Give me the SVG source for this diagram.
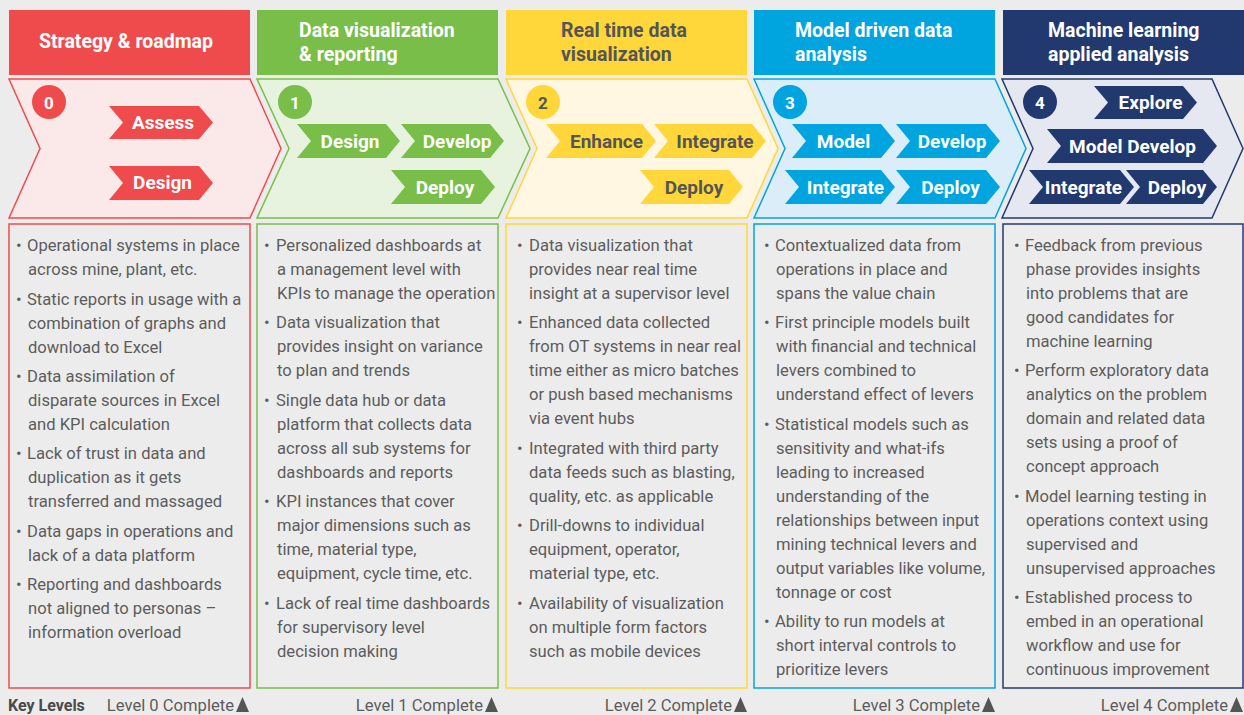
<svg xmlns="http://www.w3.org/2000/svg" width="1244" height="715" viewBox="0 0 1244 715">
<style>
.bg{fill:#ececec}
.hdr{font-family:Roboto,"Liberation Sans",sans-serif;font-weight:700;font-size:19.5px;fill:#ffffff}
.hdr.dk{fill:#555555}
.num{font-family:Roboto,"Liberation Sans",sans-serif;font-weight:700;font-size:17px;fill:#ffffff;text-anchor:middle}
.num.dk{fill:#555555}
.step{font-family:Roboto,"Liberation Sans",sans-serif;font-weight:700;font-size:19px;fill:#ffffff;text-anchor:middle}
.step.dk{fill:#555555}
.body{font-family:Roboto,"Liberation Sans",sans-serif;font-size:16.6px;fill:#5c5c5c}
.foot{font-family:Roboto,"Liberation Sans",sans-serif;font-size:16.6px;fill:#5c5c5c;text-anchor:end}
.key{font-family:Roboto,"Liberation Sans",sans-serif;font-size:16px;font-weight:700;fill:#4a4a4a}
.tri{fill:#555555}
.box{fill:none;stroke-width:1.5}
.chev{stroke-width:1.5}
.c0 .solid{fill:#f04b4c}.c0 .line{stroke:#f04b4c}.c0 .light{fill:#fbe8e9}
.c1 .solid{fill:#78be48}.c1 .line{stroke:#78be48}.c1 .light{fill:#e7f2df}
.c2 .solid{fill:#ffd73a}.c2 .line{stroke:#ffd73a}.c2 .light{fill:#fff7e1}
.c3 .solid{fill:#00a5e0}.c3 .line{stroke:#00a5e0}.c3 .light{fill:#dbedf8}
.c4 .solid{fill:#22396f}.c4 .line{stroke:#22396f}.c4 .light{fill:#e5e8f0}
</style>
<rect class="bg" x="0" y="0" width="1244" height="715"/>

<!-- Phase 0 -->
<g id="phase0" class="c0">
  <g id="phase0-header">
    <rect class="solid" x="9" y="10" width="241" height="65"/>
    <text class="hdr" x="126" y="48" text-anchor="middle">Strategy &amp; roadmap</text>
  </g>
  <g id="phase0-chevron">
    <polygon class="chev light line" points="9,79 250,79 281,148.5 250,218 9,218 40,148.5"/>
    <circle class="solid" cx="49" cy="102" r="17"/>
    <text class="num" x="49" y="108.5">0</text>
  </g>
  <g id="phase0-assess">
    <polygon class="solid" points="109,106 199,106 213,122.5 199,139 109,139 123,122.5"/>
    <text class="step" x="163" y="129">Assess</text>
  </g>
  <g id="phase0-design">
    <polygon class="solid" points="109,166 199,166 213,183 199,200 109,200 123,183"/>
    <text class="step" x="162.5" y="189">Design</text>
  </g>
  <g id="phase0-details">
    <rect class="box line" x="9" y="224" width="241" height="464"/>
    <text class="body">
      <tspan x="16" y="250.5">•</tspan><tspan x="27" y="250.5">Operational systems in place</tspan>
      <tspan x="28" y="274.5">across mine, plant, etc.</tspan>
      <tspan x="16" y="304.5">•</tspan><tspan x="27" y="304.5">Static reports in usage with a</tspan>
      <tspan x="28" y="328.5">combination of graphs and</tspan>
      <tspan x="28" y="352.5">download to Excel</tspan>
      <tspan x="16" y="381.5">•</tspan><tspan x="27" y="381.5">Data assimilation of</tspan>
      <tspan x="28" y="405.5">disparate sources in Excel</tspan>
      <tspan x="28" y="429.5">and KPI calculation</tspan>
      <tspan x="16" y="459">•</tspan><tspan x="27" y="459">Lack of trust in data and</tspan>
      <tspan x="28" y="483">duplication as it gets</tspan>
      <tspan x="28" y="507">transferred and massaged</tspan>
      <tspan x="16" y="536.5">•</tspan><tspan x="27" y="536.5">Data gaps in operations and</tspan>
      <tspan x="28" y="560.5">lack of a data platform</tspan>
      <tspan x="16" y="590">•</tspan><tspan x="27" y="590">Reporting and dashboards</tspan>
      <tspan x="28" y="614">not aligned to personas –</tspan>
      <tspan x="28" y="638">information overload</tspan>
    </text>
  </g>
</g>

<!-- Phase 1 -->
<g id="phase1" class="c1">
  <g id="phase1-header">
    <rect class="solid" x="257" y="10" width="241" height="65"/>
    <text class="hdr" x="299" y="37">Data visualization</text>
    <text class="hdr" x="299" y="61">&amp; reporting</text>
  </g>
  <g id="phase1-chevron">
    <polygon class="chev light line" points="257,79 498,79 530,148.5 498,218 257,218 289,148.5"/>
    <circle class="solid" cx="295" cy="102" r="17"/>
    <text class="num" x="295" y="108.5">1</text>
  </g>
  <g id="phase1-design">
    <polygon class="solid" points="297,124 386,124 400,141 386,158 297,158 311,141"/>
    <text class="step" x="350" y="147.5">Design</text>
  </g>
  <g id="phase1-develop">
    <polygon class="solid" points="401,124 490,124 504,141 490,158 401,158 415,141"/>
    <text class="step" x="457" y="147.5">Develop</text>
  </g>
  <g id="phase1-deploy">
    <polygon class="solid" points="391,170 481,170 495,187 481,204 391,204 405,187"/>
    <text class="step" x="445" y="193.5">Deploy</text>
  </g>
  <g id="phase1-details">
    <rect class="box line" x="257" y="224" width="241" height="464"/>
    <text class="body">
      <tspan x="264" y="250.5">•</tspan><tspan x="276" y="250.5">Personalized dashboards at</tspan>
      <tspan x="277" y="274.5">a management level with</tspan>
      <tspan x="277" y="298.5">KPIs to manage the operation</tspan>
      <tspan x="264" y="328">•</tspan><tspan x="276" y="328">Data visualization that</tspan>
      <tspan x="277" y="352">provides insight on variance</tspan>
      <tspan x="277" y="376">to plan and trends</tspan>
      <tspan x="264" y="405.5">•</tspan><tspan x="276" y="405.5">Single data hub or data</tspan>
      <tspan x="277" y="429.5">platform that collects data</tspan>
      <tspan x="277" y="453.5">across all sub systems for</tspan>
      <tspan x="277" y="477.5">dashboards and reports</tspan>
      <tspan x="264" y="507">•</tspan><tspan x="276" y="507">KPI instances that cover</tspan>
      <tspan x="277" y="531">major dimensions such as</tspan>
      <tspan x="277" y="555">time, material type,</tspan>
      <tspan x="277" y="579">equipment, cycle time, etc.</tspan>
      <tspan x="264" y="608.5">•</tspan><tspan x="276" y="608.5">Lack of real time dashboards</tspan>
      <tspan x="277" y="632.5">for supervisory level</tspan>
      <tspan x="277" y="656.5">decision making</tspan>
    </text>
  </g>
</g>

<!-- Phase 2 -->
<g id="phase2" class="c2">
  <g id="phase2-header">
    <rect class="solid" x="506" y="10" width="241" height="65"/>
    <text class="hdr dk" x="561" y="37">Real time data</text>
    <text class="hdr dk" x="561" y="61">visualization</text>
  </g>
  <g id="phase2-chevron">
    <polygon class="chev light line" points="506,79 747,79 778,148.5 747,218 506,218 537,148.5"/>
    <circle class="solid" cx="543" cy="102" r="17"/>
    <text class="num dk" x="543" y="108.5">2</text>
  </g>
  <g id="phase2-enhance">
    <polygon class="solid" points="546,124 642,124 656,141 642,158 546,158 560,141"/>
    <text class="step dk" x="606.5" y="147.5">Enhance</text>
  </g>
  <g id="phase2-integrate">
    <polygon class="solid" points="654,124 752,124 766,141 752,158 654,158 668,141"/>
    <text class="step dk" x="715" y="147.5">Integrate</text>
  </g>
  <g id="phase2-deploy">
    <polygon class="solid" points="640,170 729,170 743,187 729,204 640,204 654,187"/>
    <text class="step dk" x="694" y="193.5">Deploy</text>
  </g>
  <g id="phase2-details">
    <rect class="box line" x="506" y="224" width="241" height="464"/>
    <text class="body">
      <tspan x="517" y="250.5">•</tspan><tspan x="529" y="250.5">Data visualization that</tspan>
      <tspan x="529" y="274.5">provides near real time</tspan>
      <tspan x="529" y="298.5">insight at a supervisor level</tspan>
      <tspan x="517" y="328">•</tspan><tspan x="529" y="328">Enhanced data collected</tspan>
      <tspan x="529" y="352">from OT systems in near real</tspan>
      <tspan x="529" y="376">time either as micro batches</tspan>
      <tspan x="529" y="400">or push based mechanisms</tspan>
      <tspan x="529" y="424">via event hubs</tspan>
      <tspan x="517" y="453.5">•</tspan><tspan x="529" y="453.5">Integrated with third party</tspan>
      <tspan x="529" y="477.5">data feeds such as blasting,</tspan>
      <tspan x="529" y="501.5">quality, etc. as applicable</tspan>
      <tspan x="517" y="531">•</tspan><tspan x="529" y="531">Drill-downs to individual</tspan>
      <tspan x="529" y="555">equipment, operator,</tspan>
      <tspan x="529" y="579">material type, etc.</tspan>
      <tspan x="517" y="608.5">•</tspan><tspan x="529" y="608.5">Availability of visualization</tspan>
      <tspan x="529" y="632.5">on multiple form factors</tspan>
      <tspan x="529" y="656.5">such as mobile devices</tspan>
    </text>
  </g>
</g>

<!-- Phase 3 -->
<g id="phase3" class="c3">
  <g id="phase3-header">
    <rect class="solid" x="754" y="10" width="241" height="65"/>
    <text class="hdr" x="795" y="37">Model driven data</text>
    <text class="hdr" x="795" y="61">analysis</text>
  </g>
  <g id="phase3-chevron">
    <polygon class="chev light line" points="754,79 995,79 1026,148.5 995,218 754,218 785,148.5"/>
    <circle class="solid" cx="790" cy="102" r="17"/>
    <text class="num" x="790" y="108.5">3</text>
  </g>
  <g id="phase3-model">
    <polygon class="solid" points="792,124 881,124 895,141 881,158 792,158 806,141"/>
    <text class="step" x="843.5" y="147.5">Model</text>
  </g>
  <g id="phase3-develop">
    <polygon class="solid" points="896,124 986,124 1000,141 986,158 896,158 910,141"/>
    <text class="step" x="952" y="147.5">Develop</text>
  </g>
  <g id="phase3-integrate">
    <polygon class="solid" points="785,170 881,170 895,187 881,204 785,204 799,187"/>
    <text class="step" x="845.5" y="193.5">Integrate</text>
  </g>
  <g id="phase3-deploy">
    <polygon class="solid" points="896,170 986,170 1000,187 986,204 896,204 910,187"/>
    <text class="step" x="950.5" y="193.5">Deploy</text>
  </g>
  <g id="phase3-details">
    <rect class="box line" x="754" y="224" width="241" height="464"/>
    <text class="body">
      <tspan x="764" y="250.5">•</tspan><tspan x="775" y="250.5">Contextualized data from</tspan>
      <tspan x="776" y="274.5">operations in place and</tspan>
      <tspan x="776" y="298.5">spans the value chain</tspan>
      <tspan x="764" y="328">•</tspan><tspan x="775" y="328">First principle models built</tspan>
      <tspan x="776" y="352">with financial and technical</tspan>
      <tspan x="776" y="376">levers combined to</tspan>
      <tspan x="776" y="400">understand effect of levers</tspan>
      <tspan x="764" y="429.5">•</tspan><tspan x="775" y="429.5">Statistical models such as</tspan>
      <tspan x="776" y="453.5">sensitivity and what-ifs</tspan>
      <tspan x="776" y="477.5">leading to increased</tspan>
      <tspan x="776" y="501.5">understanding of the</tspan>
      <tspan x="776" y="525.5">relationships between input</tspan>
      <tspan x="776" y="549.5">mining technical levers and</tspan>
      <tspan x="776" y="573.5">output variables like volume,</tspan>
      <tspan x="776" y="597.5">tonnage or cost</tspan>
      <tspan x="764" y="627">•</tspan><tspan x="775" y="627">Ability to run models at</tspan>
      <tspan x="776" y="651">short interval controls to</tspan>
      <tspan x="776" y="675">prioritize levers</tspan>
    </text>
  </g>
</g>

<!-- Phase 4 -->
<g id="phase4" class="c4">
  <g id="phase4-header">
    <rect class="solid" x="1003" y="10" width="241" height="65"/>
    <text class="hdr" x="1048" y="37">Machine learning</text>
    <text class="hdr" x="1048" y="61">applied analysis</text>
  </g>
  <g id="phase4-chevron">
    <polygon class="chev light line" points="1002,79 1212,79 1243,148.5 1212,218 1002,218 1033,148.5"/>
    <circle class="solid" cx="1040" cy="102" r="17"/>
    <text class="num" x="1040" y="108.5">4</text>
  </g>
  <g id="phase4-explore">
    <polygon class="solid" points="1094,86 1183,86 1197,102.5 1183,119 1094,119 1108,102.5"/>
    <text class="step" x="1150.5" y="109">Explore</text>
  </g>
  <g id="phase4-modeldevelop">
    <polygon class="solid" points="1047,129 1203,129 1217,146 1203,163 1047,163 1061,146"/>
    <text class="step" x="1132.5" y="152.5">Model Develop</text>
  </g>
  <g id="phase4-integrate">
    <polygon class="solid" points="1029,170 1120,170 1134,187 1120,204 1029,204 1043,187"/>
    <text class="step" x="1083.5" y="193.5">Integrate</text>
  </g>
  <g id="phase4-deploy">
    <polygon class="solid" points="1126,170 1203,170 1217,187 1203,204 1126,204 1140,187"/>
    <text class="step" x="1177" y="193.5">Deploy</text>
  </g>
  <g id="phase4-details">
    <rect class="box line" x="1003" y="224" width="240" height="464"/>
    <text class="body">
      <tspan x="1014" y="250.5">•</tspan><tspan x="1025" y="250.5">Feedback from previous</tspan>
      <tspan x="1026" y="274.5">phase provides insights</tspan>
      <tspan x="1026" y="298.5">into problems that are</tspan>
      <tspan x="1026" y="322.5">good candidates for</tspan>
      <tspan x="1026" y="346.5">machine learning</tspan>
      <tspan x="1014" y="376">•</tspan><tspan x="1025" y="376">Perform exploratory data</tspan>
      <tspan x="1026" y="400">analytics on the problem</tspan>
      <tspan x="1026" y="424">domain and related data</tspan>
      <tspan x="1026" y="448">sets using a proof of</tspan>
      <tspan x="1026" y="472">concept approach</tspan>
      <tspan x="1014" y="501.5">•</tspan><tspan x="1025" y="501.5">Model learning testing in</tspan>
      <tspan x="1026" y="525.5">operations context using</tspan>
      <tspan x="1026" y="549.5">supervised and</tspan>
      <tspan x="1026" y="573.5">unsupervised approaches</tspan>
      <tspan x="1014" y="603">•</tspan><tspan x="1025" y="603">Established process to</tspan>
      <tspan x="1026" y="627">embed in an operational</tspan>
      <tspan x="1026" y="651">workflow and use for</tspan>
      <tspan x="1026" y="675">continuous improvement</tspan>
    </text>
  </g>
</g>

<g id="connectors"/>

<!-- Key levels -->
<g id="key-levels">
  <text class="key" x="8" y="711">Key Levels</text>
  <text class="foot" x="234" y="711">Level 0 Complete</text>
  <polygon class="tri" points="242.5,697 249,712 236,712"/>
  <text class="foot" x="483" y="711">Level 1 Complete</text>
  <polygon class="tri" points="491.5,697 498,712 485,712"/>
  <text class="foot" x="732" y="711">Level 2 Complete</text>
  <polygon class="tri" points="740.5,697 747,712 734,712"/>
  <text class="foot" x="980" y="711">Level 3 Complete</text>
  <polygon class="tri" points="988.5,697 995,712 982,712"/>
  <text class="foot" x="1228" y="711">Level 4 Complete</text>
  <polygon class="tri" points="1236.5,697 1243,712 1230,712"/>
</g>
</svg>
